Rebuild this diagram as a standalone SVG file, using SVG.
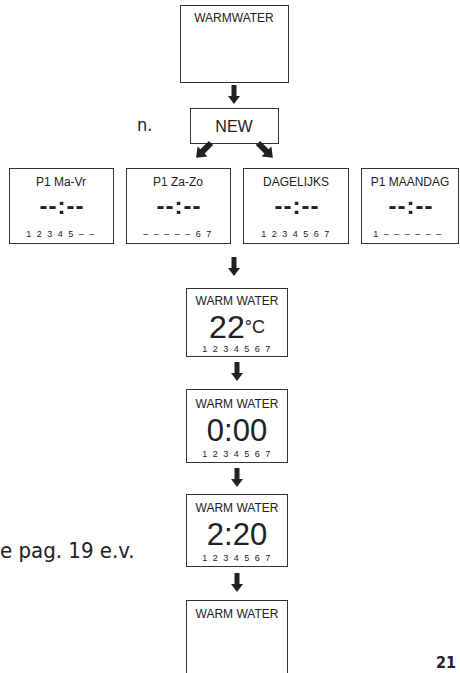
<svg xmlns="http://www.w3.org/2000/svg" width="460" height="673" viewBox="0 0 460 673">
<style>
.box{fill:#fff;stroke:#333;stroke-width:1}
.t{font-family:"Liberation Sans",Arial,Helvetica,sans-serif;fill:#222;text-anchor:middle}
.ttl{font-size:12px}
.dash{font-size:24px;font-weight:bold;letter-spacing:1px}
.days{font-size:9px;letter-spacing:1.5px}
.big{font-size:31px}
.arr{fill:#222}
.side{font-family:"DejaVu Sans Condensed","DejaVu Sans",sans-serif;font-stretch:condensed;fill:#222}
</style>
<defs>
<path id="down" d="M-2.5,0 H2.5 V11 H6 L0,19 L-6,11 H-2.5 Z"/>
<path id="diag" d="M-3,0 H3 V12 H7 L0,21 L-7,12 H-3 Z"/>
</defs>

<g id="n-warmwater">
<rect class="box" x="180.5" y="5.5" width="108" height="77"/>
<text class="t ttl" x="234" y="22">WARMWATER</text>
</g>

<g id="n-new">
<rect class="box" x="190.5" y="108.5" width="88" height="35"/>
<text class="t" x="234" y="132" font-size="16">NEW</text>
</g>

<g id="n-p1mavr">
<rect class="box" x="9.5" y="168.5" width="104" height="75"/>
<text class="t ttl" x="61" y="186">P1 Ma-Vr</text>
<text class="t dash" x="62" y="214">--:--</text>
<text class="t days" x="61" y="237">1 2 3 4 5 – –</text>
</g>

<g id="n-p1zazo">
<rect class="box" x="126.5" y="168.5" width="104" height="75"/>
<text class="t ttl" x="178" y="186">P1 Za-Zo</text>
<text class="t dash" x="179" y="214">--:--</text>
<text class="t days" x="178" y="237">– – – – – 6 7</text>
</g>

<g id="n-dagelijks">
<rect class="box" x="243.5" y="168.5" width="105" height="75"/>
<text class="t ttl" x="296" y="186">DAGELIJKS</text>
<text class="t dash" x="297" y="214">--:--</text>
<text class="t days" x="296" y="237">1 2 3 4 5 6 7</text>
</g>

<g id="n-p1maandag">
<rect class="box" x="361.5" y="168.5" width="97" height="75"/>
<text class="t ttl" x="410" y="186">P1 MAANDAG</text>
<text class="t dash" x="411" y="214">--:--</text>
<text class="t days" x="408" y="237">1 – – – – – –</text>
</g>

<g id="n-ww22">
<rect class="box" x="186.5" y="288.5" width="101" height="68"/>
<text class="t ttl" x="237" y="305">WARM WATER</text>
<text class="t" x="237" y="338"><tspan font-size="32">22</tspan><tspan font-size="18" dy="-5">°C</tspan></text>
<text class="t days" x="237" y="352">1 2 3 4 5 6 7</text>
</g>

<g id="n-ww000">
<rect class="box" x="186.5" y="389.5" width="101" height="73"/>
<text class="t ttl" x="237" y="408">WARM WATER</text>
<text class="t big" x="237" y="441">0:00</text>
<text class="t days" x="237" y="457">1 2 3 4 5 6 7</text>
</g>

<g id="n-ww220">
<rect class="box" x="186.5" y="494.5" width="101" height="72"/>
<text class="t ttl" x="237" y="512">WARM WATER</text>
<text class="t big" x="237" y="545">2:20</text>
<text class="t days" x="237" y="561">1 2 3 4 5 6 7</text>
</g>

<g id="n-wwlast">
<rect class="box" x="186.5" y="600.5" width="101" height="80"/>
<text class="t ttl" x="237" y="618">WARM WATER</text>
</g>

<g id="connectors" class="arr">
<use href="#down" transform="translate(234,85)"/>
<use href="#diag" transform="translate(211,143) rotate(45)"/>
<use href="#diag" transform="translate(258,143) rotate(-45)"/>
<use href="#down" transform="translate(234,257)"/>
<use href="#down" transform="translate(237,362)"/>
<use href="#down" transform="translate(237,468)"/>
<use href="#down" transform="translate(237,573)"/>
</g>

<g id="side-text">
<text class="side" x="137" y="131" style="font-size:18px">n.</text>
<text class="side" x="0" y="558" style="font-size:22px">e pag. 19 e.v.</text>
<text class="side" x="436" y="668" style="font-size:16px;font-weight:bold">21</text>
</g>
</svg>
